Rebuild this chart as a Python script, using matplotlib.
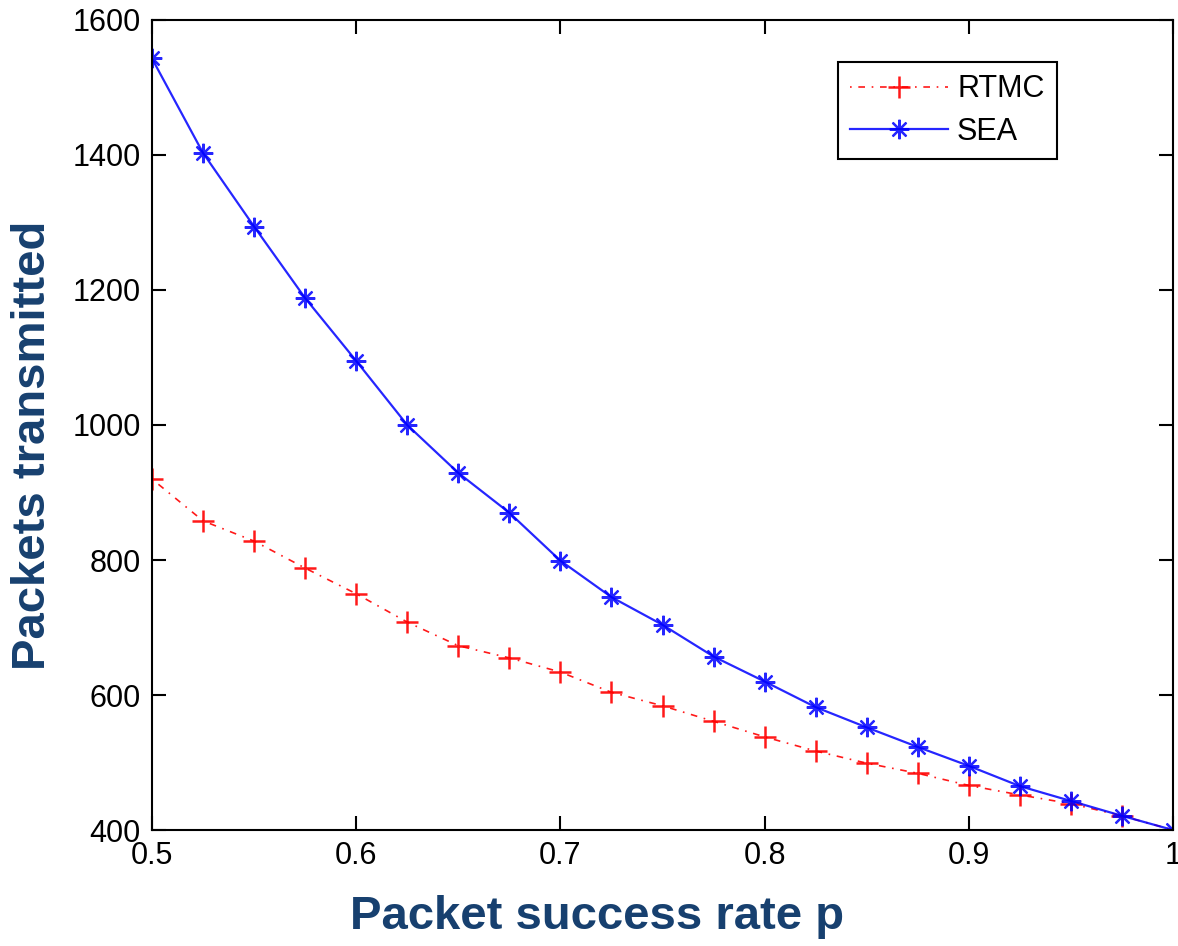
import matplotlib
matplotlib.use("Agg")
import matplotlib.pyplot as plt

# success rate p
p = [0.5, 0.525, 0.55, 0.575, 0.6, 0.625, 0.65, 0.675, 0.7, 0.725, 0.75,
     0.775, 0.8, 0.825, 0.85, 0.875, 0.9, 0.925, 0.95, 0.975, 1.0]

rtmc = [920, 858, 828, 788, 750, 708, 673, 655, 634, 604, 584,
        561, 538, 517, 499, 484, 466, 452, 439, 421, 400]
sea = [1543, 1403, 1294, 1188, 1095, 1000, 929, 870, 799, 745, 704,
       657, 620, 582, 552, 523, 495, 465, 443, 421, 400]

xticks = [0.5, 0.6, 0.7, 0.8, 0.9, 1.0]
xticklabels = ["0.5", "0.6", "0.7", "0.8", "0.9", "1"]
yticks = [400, 600, 800, 1000, 1200, 1400, 1600]

plt.rcParams['font.family'] = ['Liberation Sans', 'DejaVu Sans']
label_color = '#17406f'

fig = plt.figure(figsize=(11.78, 9.46), dpi=100)
ax = fig.add_axes([0.129, 0.1226, 0.8668, 0.8563])

ax.plot(p, rtmc, color='red', linestyle=(0, (1, 4, 4, 4)), linewidth=1.2,
        marker='+', markersize=16, markeredgewidth=1.8, label='RTMC', alpha=0.9)
ax.plot(p, sea, color='blue', linestyle='-', linewidth=1.6,
        marker=(8, 2, 0), markersize=14, markeredgewidth=1.6, label='SEA', alpha=0.85)

ax.set_xlim(0.5, 1.0)
ax.set_ylim(400, 1600)
ax.set_xticks(xticks)
ax.set_xticklabels(xticklabels)
ax.set_yticks(yticks)
ax.tick_params(direction='in', length=10, width=1.5, labelsize=22, top=True, right=True,
               pad=8)
for s in ax.spines.values():
    s.set_linewidth(1.5)

ax.set_xlabel('Packet success rate p', fontsize=34, fontweight='bold', color=label_color)
ax.set_ylabel('Packets transmitted', fontsize=34, fontweight='bold', color=label_color)
ax.xaxis.set_label_coords(0.436, -0.08)
ax.yaxis.set_label_coords(-0.095, 0.475)

leg = ax.legend(loc='upper right', bbox_to_anchor=(0.886, 0.948), borderaxespad=0,
                fontsize=22, fancybox=False, edgecolor='black', framealpha=1,
                handlelength=3.2, handletextpad=0.3, borderpad=0.4, labelspacing=0.4)
leg.get_frame().set_linewidth(1.5)

fig.savefig('out.png', dpi=100)
